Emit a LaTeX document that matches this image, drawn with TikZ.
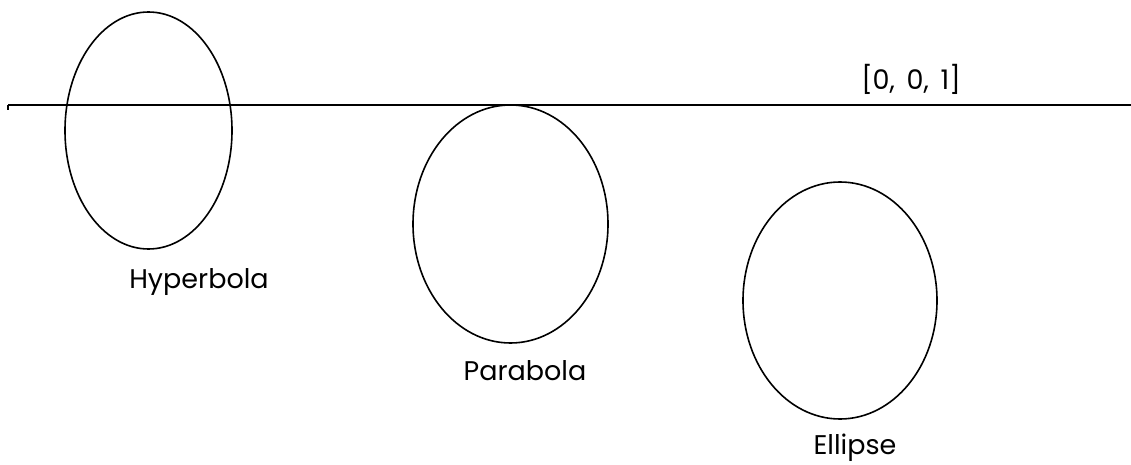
\documentclass[tikz,border=0pt]{standalone}
\usepackage{fontspec}
\setmainfont{Poppins}
\usepackage{tikz}
\usetikzlibrary{positioning}

\begin{document}
\begin{tikzpicture}[x=1pt,y=-1pt,
    conic/.style={black,line width=1.6pt},
    conlabel/.style={font=\fontsize{27}{30}\selectfont}]
    \useasboundingbox (0,0) rectangle (1131,465);

    % Ideal line
    \coordinate (lineL) at (8,105);
    \coordinate (lineR) at (1131,105);
    \draw[conic] (lineL) -- (lineR);
    \draw[conic] (lineL) -- ++(0,5);
    \node[conlabel,anchor=base] (ideal) at (911,90) {[0,\, 0,\, 1]};

    % Conics
    \draw[conic] (148.5,130.5) ellipse [x radius=83.5, y radius=118.5];
    \draw[conic] (510.5,224) ellipse [x radius=97.5, y radius=119];
    \draw[conic] (840,300.5) ellipse [x radius=97, y radius=118.5];

    % Labels
    \node[conlabel,anchor=base] (hyp) at (199,288) {Hyperbola};
    \node[conlabel,anchor=base] (par) at (525,380) {Parabola};
    \node[conlabel,anchor=base] (ell) at (855,454) {Ellipse};
\end{tikzpicture}
\end{document}
